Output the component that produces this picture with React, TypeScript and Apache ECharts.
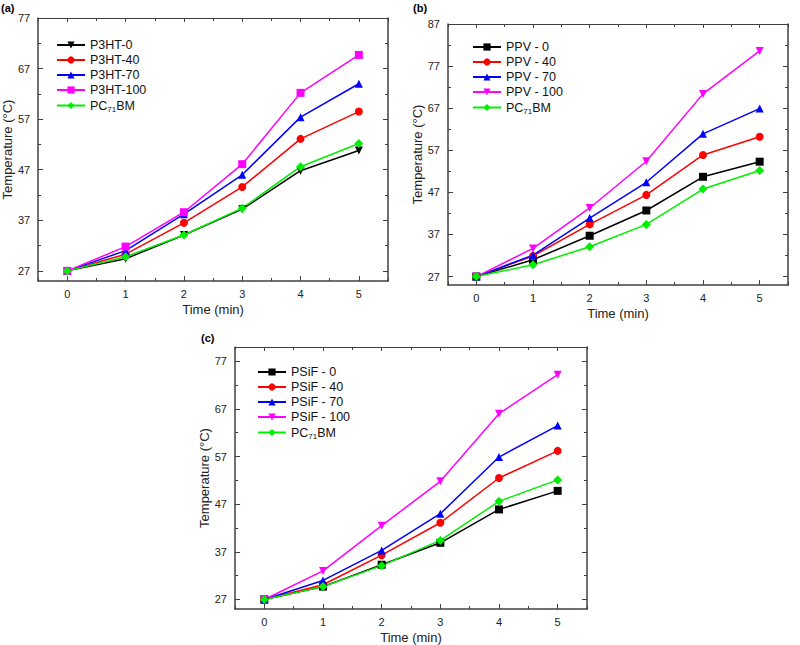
import React, { useEffect, useRef } from "react";
import * as echarts from "echarts";

const TIME = [0, 1, 2, 3, 4, 5];
const X_MAJOR = [0, 1, 2, 3, 4, 5];
const X_MINOR = [-0.5, 0.5, 1.5, 2.5, 3.5, 4.5, 5.5];

// Panel (a)
const P3HT_0 = [27, 29.4, 34.1, 39.2, 46.8, 50.8];
const P3HT_40 = [27, 30.3, 36.5, 43.6, 53.1, 58.5];
const P3HT_70 = [27, 31.0, 38.2, 46.0, 57.4, 64.0];
const P3HT_100 = [27, 31.8, 38.6, 48.1, 62.2, 69.7];
const PCBM_A = [27, 29.8, 34.1, 39.4, 47.6, 52.2];
const Y_MAJOR_A = [27, 37, 47, 57, 67, 77];
const Y_MINOR_A = [32, 42, 52, 62, 72];

// Panel (b)
const PPV_0 = [27, 31.0, 36.7, 42.7, 50.7, 54.3];
const PPV_40 = [27, 31.9, 39.4, 46.4, 55.9, 60.2];
const PPV_70 = [27, 32.1, 40.9, 49.4, 60.9, 66.9];
const PPV_100 = [27, 33.7, 43.3, 54.4, 70.4, 80.6];
const PCBM_B = [27, 29.8, 34.1, 39.4, 47.8, 52.2];
const Y_MAJOR_B = [27, 37, 47, 57, 67, 77, 87];
const Y_MINOR_B = [32, 42, 52, 62, 72, 82];

// Panel (c)
const PSIF_0 = [27, 29.7, 34.3, 38.9, 45.9, 49.8];
const PSIF_40 = [27, 30.1, 36.3, 43.1, 52.5, 58.2];
const PSIF_70 = [27, 31.0, 37.3, 45.0, 56.9, 63.5];
const PSIF_100 = [27, 33.0, 42.5, 51.8, 66.0, 74.2];
const PCBM_C = [27, 29.7, 34.1, 39.4, 47.6, 52.1];
const Y_MAJOR_C = [27, 37, 47, 57, 67, 77];
const Y_MINOR_C = [32, 42, 52, 62, 72];

const FONT = "Liberation Sans, Arial, sans-serif";
const AXIS_COLOR = "#404040";
const DOWN_TRI = "path://M0,0L10,0L5,9Z";

const PANELS = [
  {
    grid: { left: 36, top: 18, width: 352, height: 263 },
    yMin: 25, yMax: 77, yMajor: Y_MAJOR_A, yMinor: Y_MINOR_A,
    legend: { left: 56, top: 38 },
    label: { text: "(a)", x: 1, y: 2 },
    series: [
      { name: "P3HT-0", data: P3HT_0, color: "#000000", symbol: DOWN_TRI },
      { name: "P3HT-40", data: P3HT_40, color: "#ff0000", symbol: "circle" },
      { name: "P3HT-70", data: P3HT_70, color: "#0000ff", symbol: "triangle" },
      { name: "P3HT-100", data: P3HT_100, color: "#ff00ff", symbol: "rect" },
      { name: "PC71BM#a", data: PCBM_A, color: "#00ee00", symbol: "diamond" },
    ],
  },
  {
    grid: { left: 448, top: 24, width: 340, height: 261 },
    yMin: 25, yMax: 87, yMajor: Y_MAJOR_B, yMinor: Y_MINOR_B,
    legend: { left: 472, top: 40 },
    label: { text: "(b)", x: 413, y: 2 },
    series: [
      { name: "PPV - 0", data: PPV_0, color: "#000000", symbol: "rect" },
      { name: "PPV - 40", data: PPV_40, color: "#ff0000", symbol: "circle" },
      { name: "PPV - 70", data: PPV_70, color: "#0000ff", symbol: "triangle" },
      { name: "PPV - 100", data: PPV_100, color: "#ff00ff", symbol: DOWN_TRI },
      { name: "PC71BM#b", data: PCBM_B, color: "#00ee00", symbol: "diamond" },
    ],
  },
  {
    grid: { left: 235, top: 347, width: 352, height: 262 },
    yMin: 25, yMax: 80, yMajor: Y_MAJOR_C, yMinor: Y_MINOR_C,
    legend: { left: 257, top: 365 },
    label: { text: "(c)", x: 201, y: 332 },
    series: [
      { name: "PSiF - 0", data: PSIF_0, color: "#000000", symbol: "rect" },
      { name: "PSiF - 40", data: PSIF_40, color: "#ff0000", symbol: "circle" },
      { name: "PSiF - 70", data: PSIF_70, color: "#0000ff", symbol: "triangle" },
      { name: "PSiF - 100", data: PSIF_100, color: "#ff00ff", symbol: DOWN_TRI },
      { name: "PC71BM#c", data: PCBM_C, color: "#00ee00", symbol: "diamond" },
    ],
  },
];

function buildOption() {
  const xAxis: any[] = [];
  const yAxis: any[] = [];
  const grid: any[] = [];
  const series: any[] = [];
  const legend: any[] = [];
  const graphic: any[] = [];

  PANELS.forEach((p, gi) => {
    grid.push({ ...p.grid, containLabel: false });
    const lineStyle = { color: AXIS_COLOR, width: 1.5 };
    const tickStyle = { color: AXIS_COLOR, width: 1 };
    const xBase = {
      gridIndex: gi, type: "value", min: -0.5, max: 5.5,
      splitLine: { show: false },
    };
    const xMainIdx = xAxis.length;
    xAxis.push({
      ...xBase, position: "bottom",
      axisLine: { show: true, onZero: false, lineStyle },
      axisTick: { show: true, inside: true, length: 5, customValues: X_MAJOR, lineStyle: tickStyle },
      axisLabel: { show: true, customValues: X_MAJOR, margin: 7, fontSize: 11, color: "#222", fontFamily: FONT },
      name: "Time (min)", nameLocation: "middle", nameGap: 22,
      nameTextStyle: { fontSize: 13, color: "#222", fontFamily: FONT, verticalAlign: "top" },
    });
    xAxis.push({
      ...xBase, position: "bottom",
      axisLine: { show: false, onZero: false },
      axisTick: { show: true, inside: true, length: 3, customValues: X_MINOR, lineStyle: tickStyle },
      axisLabel: { show: false },
    });
    xAxis.push({
      ...xBase, position: "top",
      axisLine: { show: true, onZero: false, lineStyle: { color: AXIS_COLOR, width: 1 } },
      axisTick: { show: true, inside: true, length: 4, customValues: X_MAJOR, lineStyle: tickStyle },
      axisLabel: { show: false },
    });
    xAxis.push({
      ...xBase, position: "top",
      axisLine: { show: false, onZero: false },
      axisTick: { show: true, inside: true, length: 3, customValues: X_MINOR, lineStyle: tickStyle },
      axisLabel: { show: false },
    });

    const yBase = {
      gridIndex: gi, type: "value", min: p.yMin, max: p.yMax,
      splitLine: { show: false },
    };
    const yMainIdx = yAxis.length;
    yAxis.push({
      ...yBase, position: "left",
      axisLine: { show: true, onZero: false, lineStyle },
      axisTick: { show: true, inside: true, length: 5, customValues: p.yMajor, lineStyle: tickStyle },
      axisLabel: { show: true, customValues: p.yMajor, margin: 8, fontSize: 11, color: "#222", fontFamily: FONT },
      name: "Temperature (°C)", nameLocation: "middle", nameGap: 22, nameRotate: 90,
      nameTextStyle: { fontSize: 13, color: "#222", fontFamily: FONT, verticalAlign: "bottom" },
    });
    yAxis.push({
      ...yBase, position: "left",
      axisLine: { show: false, onZero: false },
      axisTick: { show: true, inside: true, length: 3, customValues: p.yMinor, lineStyle: tickStyle },
      axisLabel: { show: false },
    });
    yAxis.push({
      ...yBase, position: "right",
      axisLine: { show: true, onZero: false, lineStyle },
      axisTick: { show: true, inside: true, length: 5, customValues: p.yMajor, lineStyle: tickStyle },
      axisLabel: { show: false },
    });
    yAxis.push({
      ...yBase, position: "right",
      axisLine: { show: false, onZero: false },
      axisTick: { show: true, inside: true, length: 3, customValues: p.yMinor, lineStyle: tickStyle },
      axisLabel: { show: false },
    });

    p.series.forEach((s) => {
      series.push({
        type: "line",
        name: s.name,
        xAxisIndex: xMainIdx,
        yAxisIndex: yMainIdx,
        data: TIME.map((t, i) => [t, s.data[i]]),
        symbol: s.symbol,
        symbolSize: s.symbol === "diamond" ? 9 : 8,
        showSymbol: true,
        lineStyle: { color: s.color, width: 1.5 },
        itemStyle: { color: s.color },
        emphasis: { disabled: true },
      });
    });

    legend.push({
      data: p.series.map((s) => s.name),
      left: p.legend.left,
      top: p.legend.top,
      padding: 0,
      orient: "vertical",
      itemWidth: 28,
      itemHeight: 9,
      itemGap: 1,
      selectedMode: false,
      formatter: (name: string) =>
        name.startsWith("PC71BM") ? "{n|PC}{s|71}{n|BM}" : "{n|" + name + "}",
      textStyle: {
        fontSize: 12.5,
        color: "#111",
        fontFamily: FONT,
        lineHeight: 14,
        rich: {
          n: { fontSize: 12.5, fontFamily: FONT, color: "#111", lineHeight: 14 },
          s: { fontSize: 8, fontFamily: FONT, color: "#111", lineHeight: 14, padding: [7, 0, 0, 0] },
        },
      },
    });

    graphic.push({
      type: "text",
      left: p.label.x,
      top: p.label.y,
      style: { text: p.label.text, fontSize: 11, fontWeight: "bold", fontFamily: FONT, fill: "#000" },
    });
  });

  return {
    animation: false,
    backgroundColor: "#ffffff",
    grid, xAxis, yAxis, series, legend, graphic,
  };
}

export default function App() {
  const ref = useRef<HTMLDivElement>(null);
  useEffect(() => {
    if (!ref.current) return;
    const chart = echarts.init(ref.current, null, { renderer: "svg" });
    chart.setOption(buildOption() as any);
    return () => chart.dispose();
  }, []);
  return (
    <div
      ref={ref}
      style={{ position: "fixed", left: 0, top: 0, width: 800, height: 645, background: "#fff" }}
    />
  );
}
